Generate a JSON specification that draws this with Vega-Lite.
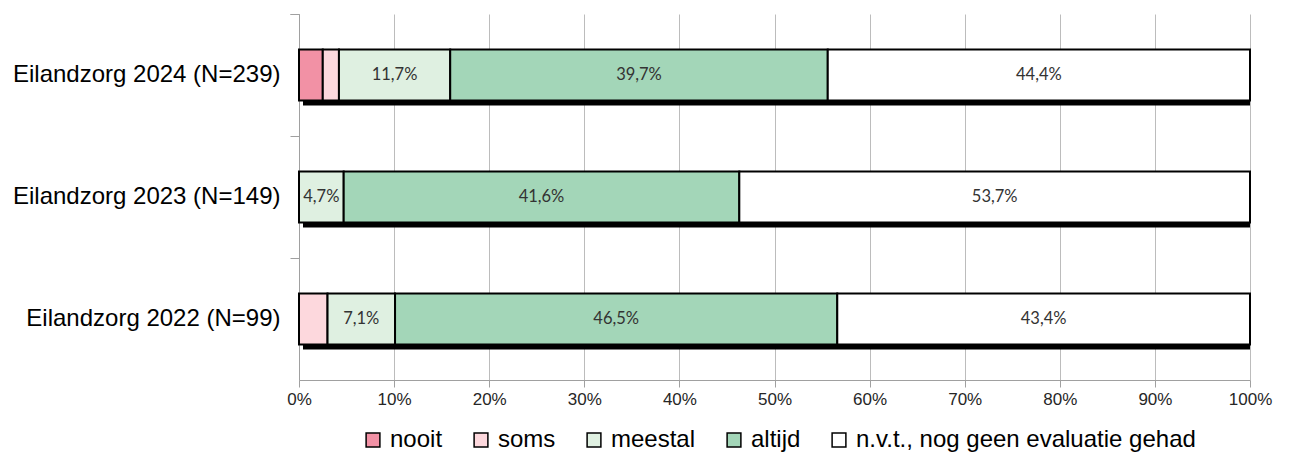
{
  "$schema": "https://vega.github.io/schema/vega-lite/v6.json",
  "width": 951,
  "height": 366,
  "autosize": {"type": "none"},
  "padding": {"left": 299, "top": 14, "right": 42, "bottom": 75},
  "background": "white",
  "config": {"view": {"stroke": null}, "font": "Liberation Sans"},
  "data": {
    "values": [
      {"jaar": "Eilandzorg 2024 (N=239)", "cat": "nooit", "k": 1, "v": 2.5},
      {"jaar": "Eilandzorg 2024 (N=239)", "cat": "soms", "k": 2, "v": 1.7},
      {"jaar": "Eilandzorg 2024 (N=239)", "cat": "meestal", "k": 3, "v": 11.7},
      {"jaar": "Eilandzorg 2024 (N=239)", "cat": "altijd", "k": 4, "v": 39.7},
      {"jaar": "Eilandzorg 2024 (N=239)", "cat": "n.v.t., nog geen evaluatie gehad", "k": 5, "v": 44.4},
      {"jaar": "Eilandzorg 2023 (N=149)", "cat": "meestal", "k": 3, "v": 4.7},
      {"jaar": "Eilandzorg 2023 (N=149)", "cat": "altijd", "k": 4, "v": 41.6},
      {"jaar": "Eilandzorg 2023 (N=149)", "cat": "n.v.t., nog geen evaluatie gehad", "k": 5, "v": 53.7},
      {"jaar": "Eilandzorg 2022 (N=99)", "cat": "soms", "k": 2, "v": 3.0},
      {"jaar": "Eilandzorg 2022 (N=99)", "cat": "meestal", "k": 3, "v": 7.1},
      {"jaar": "Eilandzorg 2022 (N=99)", "cat": "altijd", "k": 4, "v": 46.5},
      {"jaar": "Eilandzorg 2022 (N=99)", "cat": "n.v.t., nog geen evaluatie gehad", "k": 5, "v": 43.4}
    ]
  },
  "transform": [
    {"stack": "v", "groupby": ["jaar"], "sort": [{"field": "k", "order": "ascending"}], "as": ["x0", "x1"]},
    {"calculate": "(datum.x0 + datum.x1) / 2", "as": "xm"},
    {"calculate": "replace(format(datum.v, '.1f'), '.', ',') + '%'", "as": "lbl"}
  ],
  "encoding": {
    "y": {
      "field": "jaar",
      "type": "nominal",
      "sort": ["Eilandzorg 2024 (N=239)", "Eilandzorg 2023 (N=149)", "Eilandzorg 2022 (N=99)"],
      "scale": {"paddingInner": 0, "paddingOuter": 0},
      "axis": {
        "title": null,
        "labelFontSize": 24,
        "labelColor": "#000000",
        "labelFont": "Liberation Sans",
        "labelLimit": 300,
        "labelPadding": 10,
        "domainColor": "#a0a0a0",
        "tickColor": "#a0a0a0",
        "tickSize": 9,
        "bandPosition": 0,
        "tickExtra": true,
        "grid": false
      }
    }
  },
  "layer": [
    {
      "mark": {"type": "bar", "color": "#000000", "xOffset": 4, "yOffset": 5, "height": {"band": 0.42}},
      "encoding": {
        "x": {"aggregate": "min", "field": "x0", "type": "quantitative", "scale": {"domain": [0, 100], "nice": false}},
        "x2": {"aggregate": "max", "field": "x1"}
      }
    },
    {
      "mark": {"type": "bar", "stroke": "#000000", "strokeWidth": 2, "height": {"band": 0.42}},
      "encoding": {
        "x": {
          "field": "x0",
          "type": "quantitative",
          "scale": {"domain": [0, 100], "nice": false},
          "axis": {
            "title": null,
            "values": [0, 10, 20, 30, 40, 50, 60, 70, 80, 90, 100],
            "labelExpr": "datum.value + '%'",
            "grid": true,
            "gridColor": "#bcbcbc",
            "gridWidth": 1,
            "domainColor": "#a0a0a0",
            "tickColor": "#a0a0a0",
            "tickSize": 7,
            "labelFontSize": 17,
            "labelColor": "#262626",
            "labelPadding": 4,
            "labelFlush": false
          }
        },
        "x2": {"field": "x1"},
        "color": {
          "field": "cat",
          "type": "nominal",
          "scale": {
            "domain": ["nooit", "soms", "meestal", "altijd", "n.v.t., nog geen evaluatie gehad"],
            "range": ["#F291A5", "#FDD8DD", "#DFF0E1", "#A3D6B8", "#FFFFFF"]
          },
          "legend": {
            "title": null,
            "orient": "none",
            "direction": "horizontal",
            "legendX": 62,
            "legendY": 414,
            "symbolType": "square",
            "symbolSize": 190,
            "symbolStrokeColor": "#000000",
            "symbolStrokeWidth": 1.5,
            "symbolOpacity": 1,
            "labelFontSize": 24,
            "labelFont": "Liberation Sans",
            "labelColor": "#000000",
            "labelOffset": 5,
            "columnPadding": 26,
            "labelLimit": 500
          }
        },
        "order": {"field": "k", "type": "quantitative"}
      }
    },
    {
      "transform": [{"filter": "datum.v >= 4"}],
      "mark": {"type": "text", "font": "Lato", "fontSize": 16.5, "color": "#333333", "baseline": "middle"},
      "encoding": {
        "x": {"field": "xm", "type": "quantitative", "scale": {"domain": [0, 100], "nice": false}},
        "text": {"field": "lbl"}
      }
    }
  ]
}
